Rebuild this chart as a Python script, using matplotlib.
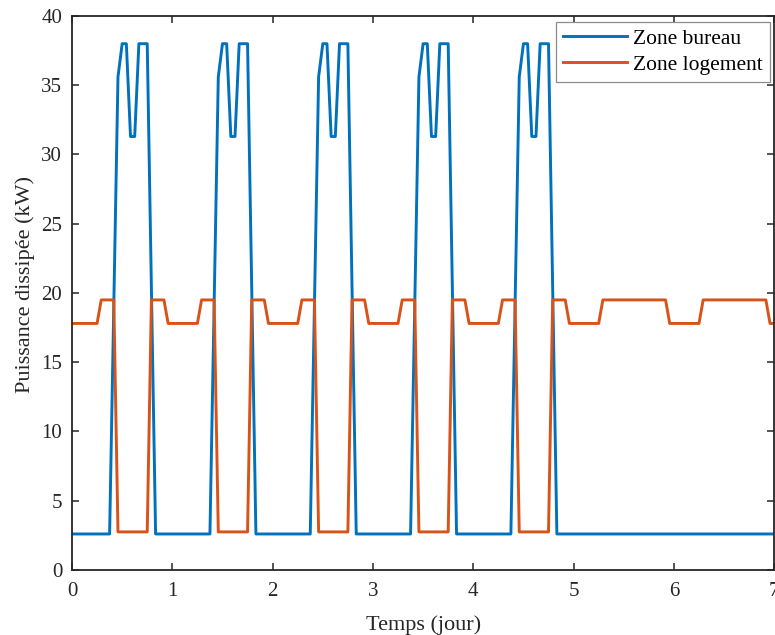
import numpy as np
import matplotlib
matplotlib.use("Agg")
import matplotlib.pyplot as plt

plt.rcParams['font.family'] = ['Liberation Serif', 'DejaVu Serif']

# hourly profiles (kW), one value per hour 0..23
bureau_semaine = [2.6, 2.6, 2.6, 2.6, 2.6, 2.6, 2.6, 2.6, 2.6, 2.6,
                  19.1, 35.6, 38.0, 38.0, 31.3, 31.3, 38.0, 38.0, 38.0, 20.3,
                  2.6, 2.6, 2.6, 2.6]
bureau_weekend = [2.6] * 24
logement_semaine = [17.8, 17.8, 17.8, 17.8, 17.8, 17.8, 17.8,
                    19.5, 19.5, 19.5, 19.5,
                    2.75, 2.75, 2.75, 2.75, 2.75, 2.75, 2.75, 2.75,
                    19.5, 19.5, 19.5, 19.5, 17.8]
logement_weekend = [17.8, 17.8, 17.8, 17.8, 17.8, 17.8, 17.8,
                    19.5, 19.5, 19.5, 19.5, 19.5, 19.5, 19.5, 19.5,
                    19.5, 19.5, 19.5, 19.5, 19.5, 19.5, 19.5, 19.5, 17.8]
jours_semaine = 5
jours_weekend = 2

bureau = bureau_semaine * jours_semaine + bureau_weekend * jours_weekend + [bureau_weekend[0]]
logement = logement_semaine * jours_semaine + logement_weekend * jours_weekend + [logement_weekend[0]]
t = np.arange(len(bureau)) / 24.0

fig = plt.figure(figsize=(7.75, 6.35), dpi=100)
ax = fig.add_axes([0.0929, 0.1024, 0.9061, 0.8724])

ax.plot(t, bureau, color='#0072BD', lw=2.1, label='Zone bureau')
ax.plot(t, logement, color='#D95319', lw=2.1, label='Zone logement')

ax.set_xlim(0, 7)
ax.set_ylim(0, 40)
ax.set_xticks(range(0, 8))
ax.set_yticks(range(0, 41, 5))

ax.tick_params(direction='in', length=5, width=1.1, top=True, right=True,
               labelsize=15, colors='#262626')
ax.tick_params(axis='x', pad=9)
ax.tick_params(axis='y', pad=7)
for s in ax.spines.values():
    s.set_linewidth(1.3)
    s.set_color('#262626')

ax.set_xlabel('Temps (jour)', fontsize=16, color='#262626', labelpad=10)
ax.set_ylabel('Puissance dissipée (kW)', fontsize=16, color='#262626')
ax.yaxis.set_label_coords(-0.052, 0.516)

leg = ax.legend(loc='upper right', bbox_to_anchor=(0.9935, 0.9895), fontsize=15.5,
                fancybox=False, framealpha=1, edgecolor='#8c8c8c',
                handlelength=3.0, handletextpad=0.25, borderpad=0.33,
                labelspacing=0.26, borderaxespad=0)
leg.get_frame().set_linewidth(0.9)

fig.savefig('out.png', dpi=100)
